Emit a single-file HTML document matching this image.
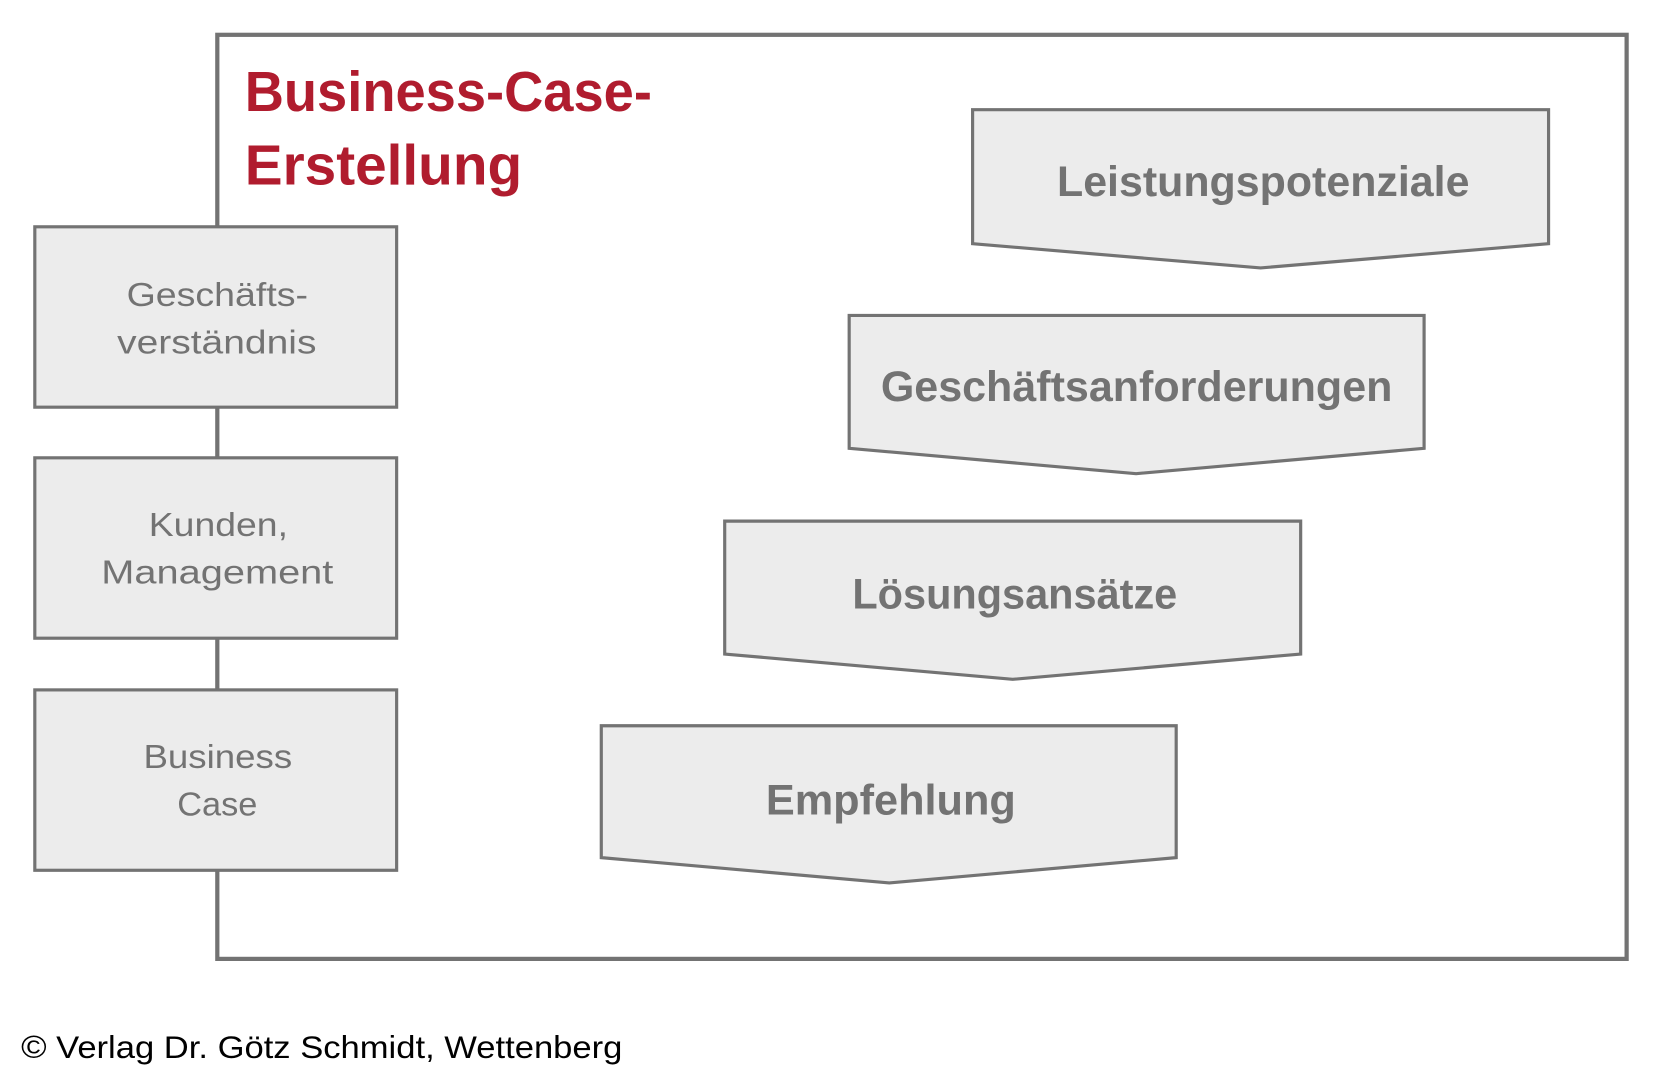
<!DOCTYPE html>
<html><head><meta charset="utf-8"><style>html,body{margin:0;padding:0;background:#fff}svg{display:block}</style></head>
<body>
<svg width="1653" height="1086" viewBox="0 0 1567 1029.5" xmlns="http://www.w3.org/2000/svg" font-family="Liberation Sans, sans-serif">
<rect x="0" y="0" width="1567" height="1030" fill="#fff"/>
<rect x="206" y="33" width="1336" height="876" fill="none" stroke="#737373" stroke-width="4"/>
<g fill="#ececec" stroke="#737373" stroke-width="3">
<rect x="33" y="215" width="343" height="171"/>
<rect x="33" y="434" width="343" height="171"/>
<rect x="33" y="654" width="343" height="171"/>
<polygon points="922,104 1468,104 1468,231 1195,254 922,231"/>
<polygon points="805,299 1350,299 1350,425 1077,449 805,425"/>
<polygon points="687,494 1233,494 1233,620 960,644 687,620"/>
<polygon points="570,688 1115,688 1115,813 843,837 570,813"/>
</g>
<g fill="#b01c2e" font-weight="bold" font-size="54">
<text x="232" y="105" textLength="386" lengthAdjust="spacingAndGlyphs">Business-Case-</text>
<text x="232" y="175" textLength="263" lengthAdjust="spacingAndGlyphs">Erstellung</text>
</g>
<g fill="#737373" font-size="32">
<text x="120" y="290" textLength="172" lengthAdjust="spacingAndGlyphs">Geschäfts-</text>
<text x="111" y="335" textLength="189" lengthAdjust="spacingAndGlyphs">verständnis</text>
<text x="141" y="508" textLength="132" lengthAdjust="spacingAndGlyphs">Kunden,</text>
<text x="96" y="553" textLength="220" lengthAdjust="spacingAndGlyphs">Management</text>
<text x="136" y="728" textLength="141" lengthAdjust="spacingAndGlyphs">Business</text>
<text x="168" y="773" textLength="76" lengthAdjust="spacingAndGlyphs">Case</text>
</g>
<g fill="#737373" font-weight="bold" font-size="40">
<text x="1002" y="186" textLength="391" lengthAdjust="spacingAndGlyphs">Leistungspotenziale</text>
<text x="835" y="380" textLength="485" lengthAdjust="spacingAndGlyphs">Geschäftsanforderungen</text>
<text x="808" y="577" textLength="308" lengthAdjust="spacingAndGlyphs">Lösungsansätze</text>
<text x="726" y="772" textLength="237" lengthAdjust="spacingAndGlyphs">Empfehlung</text>
</g>
<text x="20" y="1003" font-size="30" fill="#000" textLength="570" lengthAdjust="spacingAndGlyphs">© Verlag Dr. Götz Schmidt, Wettenberg</text>
</svg>
</body></html>
